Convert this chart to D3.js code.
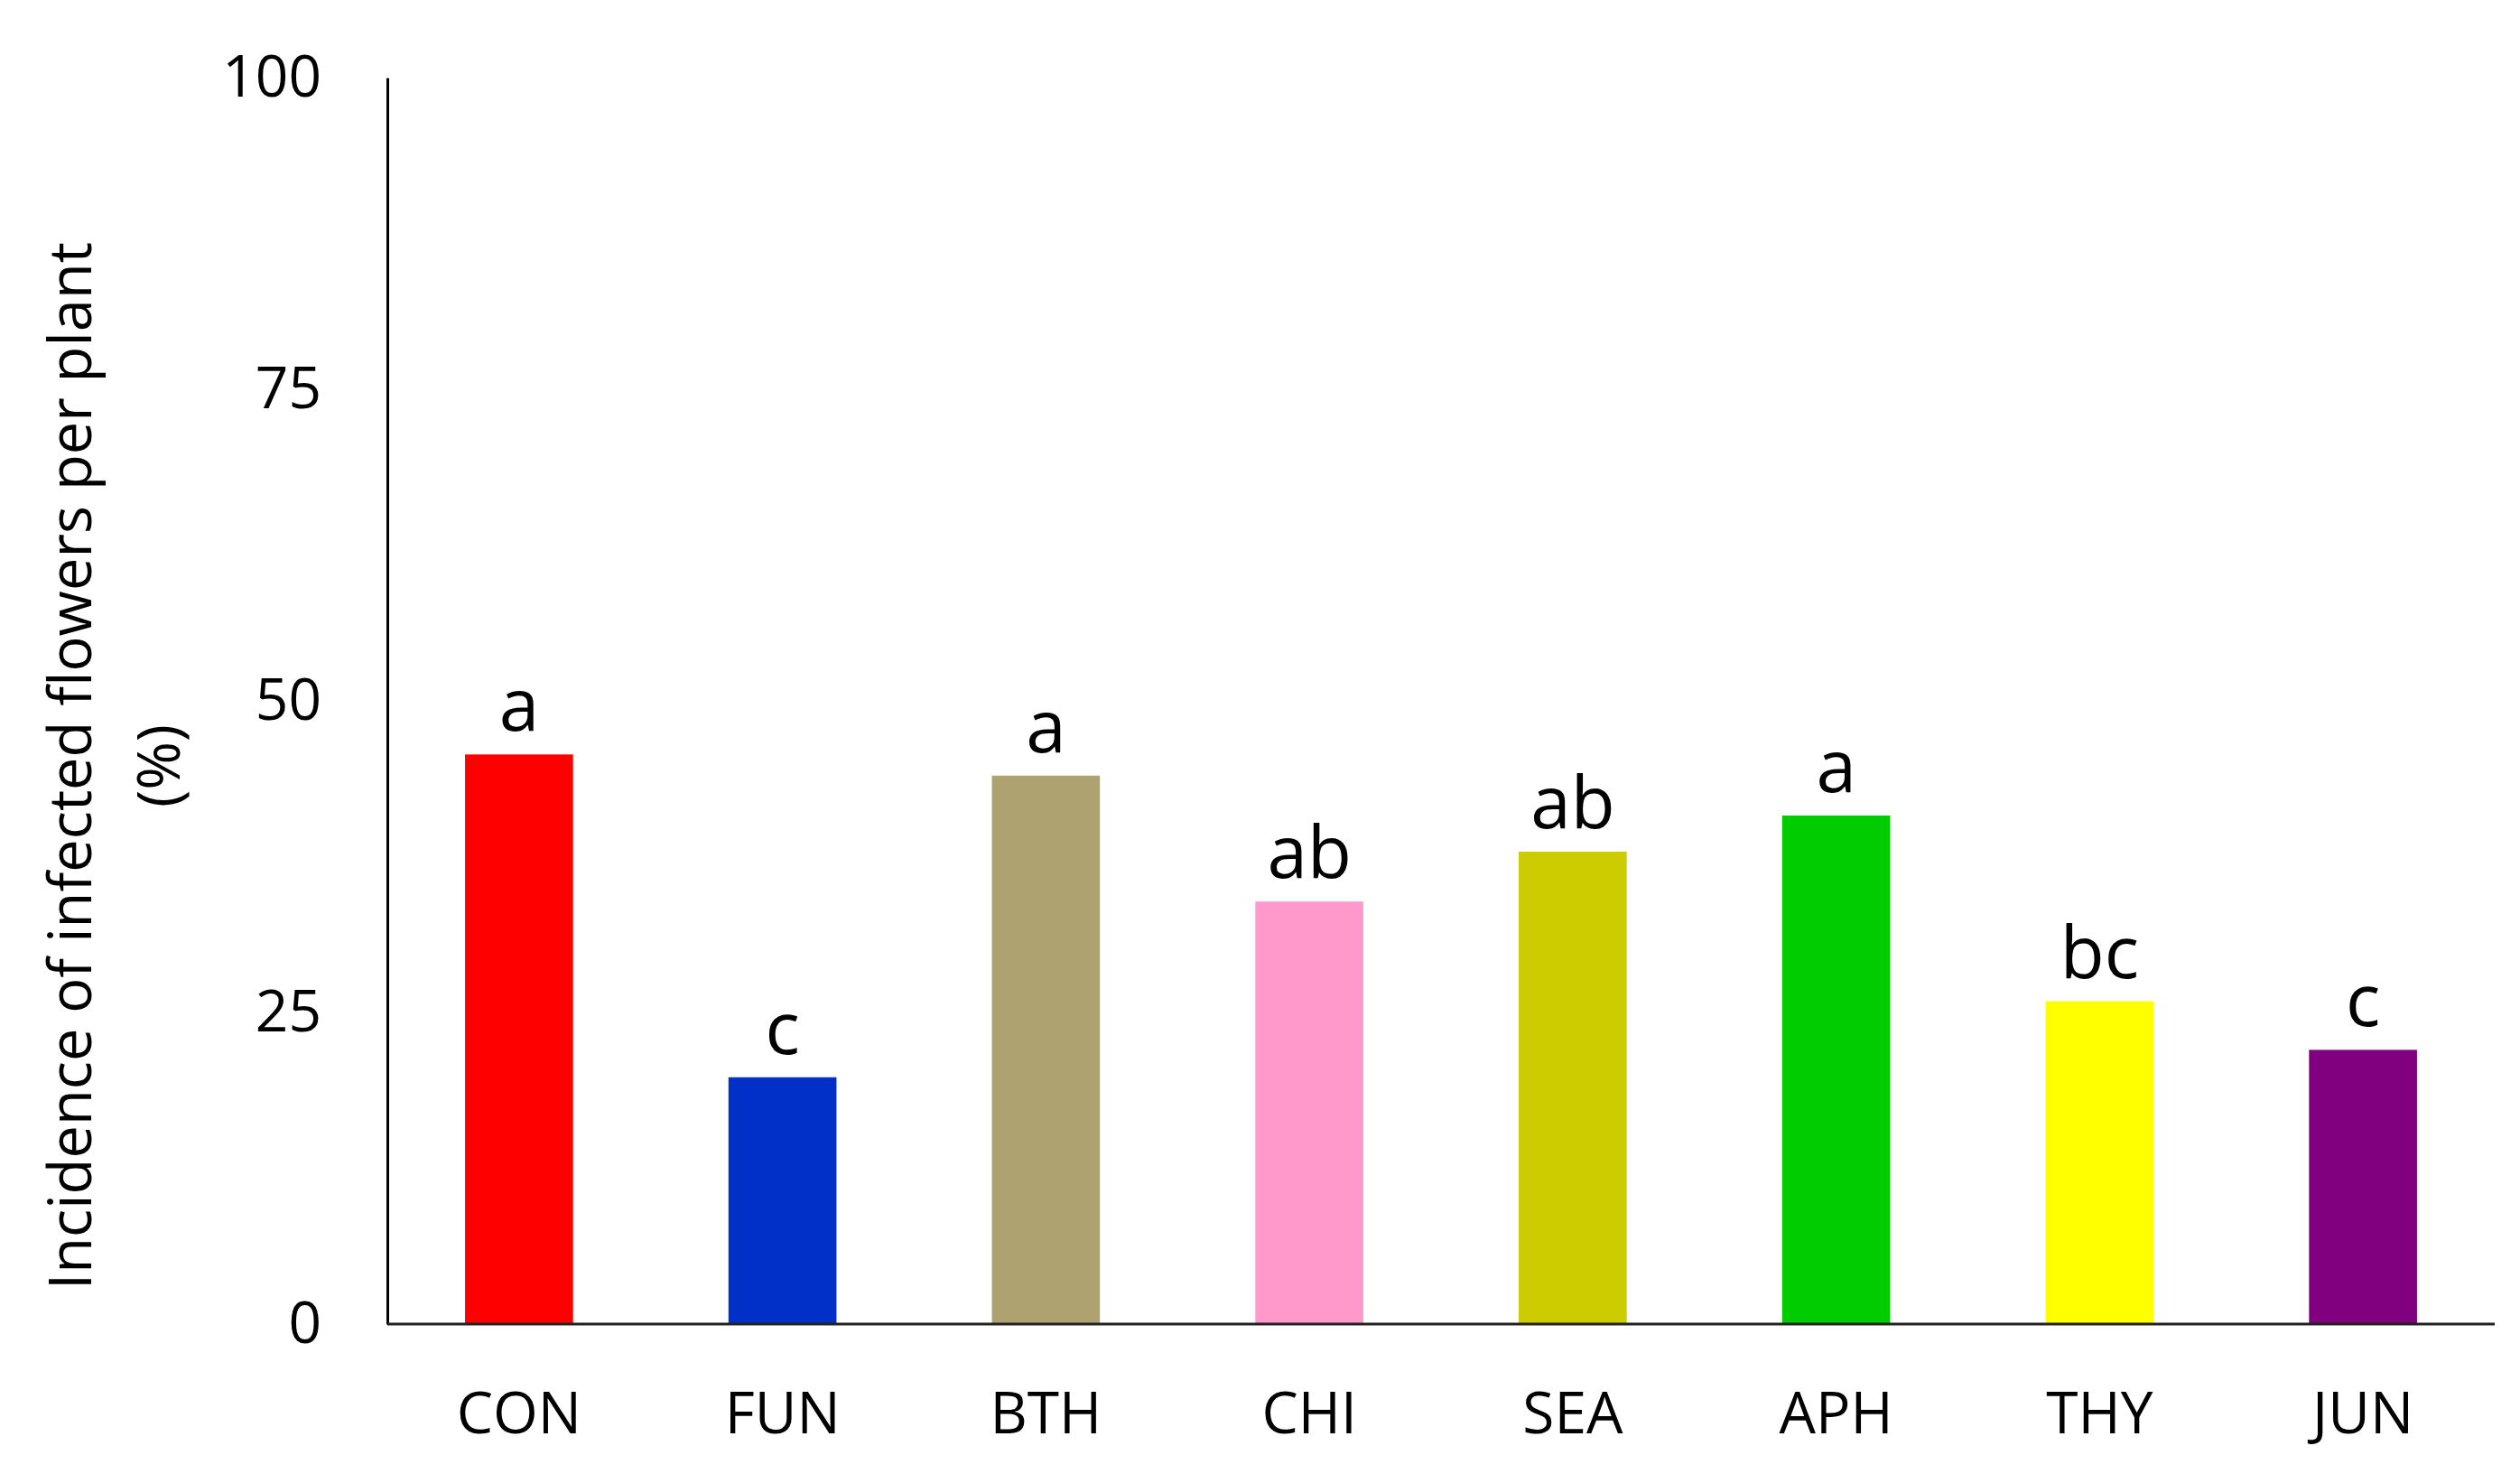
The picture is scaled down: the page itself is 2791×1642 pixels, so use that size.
<!DOCTYPE html>
<html>
<head>
<meta charset="utf-8">
<script src="https://cdn.jsdelivr.net/npm/d3@7"></script>
<style>
  html, body { margin: 0; padding: 0; background: #fff; }
  svg { display: block; }
  text { font-family: "Open Sans", "Noto Sans", sans-serif; fill: #000; }
</style>
</head>
<body>
<svg id="chart" width="2791" height="1642"></svg>
<script>
const categories = ["CON", "FUN", "BTH", "CHI", "SEA", "APH", "THY", "JUN"];
const values = [45.7, 19.8, 44.0, 33.9, 37.9, 40.8, 25.9, 22.0];
const letters = ["a", "c", "a", "ab", "ab", "a", "bc", "c"];
const colors = ["#FF0000", "#0030C8", "#AEA370", "#FF99CC", "#CCCC00", "#00CC00", "#FFFF00", "#800080"];
const yTicks = [0, 25, 50, 75, 100];
const yTitle = ["Incidence of infected flowers per plant", "(%)"];

const svg = d3.select("#chart");
const margin = { left: 429, right: 28, top: 86, bottom: 176 };
const W = 2791, H = 1642;

const x = d3.scaleBand()
  .domain(categories)
  .range([margin.left, W - margin.right])
  .paddingInner(0.59)
  .paddingOuter(0.295);

const y = d3.scaleLinear()
  .domain([0, 100])
  .range([H - margin.bottom, margin.top]);

// bars
svg.append("g").selectAll("rect")
  .data(categories)
  .join("rect")
  .attr("x", d => x(d))
  .attr("width", x.bandwidth())
  .attr("y", (d, i) => y(values[i]))
  .attr("height", (d, i) => y(0) - y(values[i]))
  .attr("fill", (d, i) => colors[i]);

// letters
svg.append("g").selectAll("text")
  .data(categories)
  .join("text")
  .attr("x", d => x(d) + x.bandwidth() / 2)
  .attr("y", (d, i) => y(values[i]) - 26)
  .attr("text-anchor", "middle")
  .attr("font-size", 80)
  .text((d, i) => letters[i]);

// y axis
const yAxis = svg.append("g")
  .attr("transform", `translate(${margin.left},0)`)
  .call(d3.axisLeft(y).tickValues(yTicks).tickSize(0).tickPadding(73).tickFormat(d3.format("d")));
yAxis.select(".domain").attr("stroke", "#000").attr("stroke-width", 3);
yAxis.selectAll(".tick text").attr("font-size", 64).attr("fill", "#000")
  .attr("font-family", "'Open Sans', sans-serif");

// x axis
const xAxis = svg.append("g")
  .attr("transform", `translate(0,${y(0)})`)
  .call(d3.axisBottom(x).tickSize(0).tickPadding(76));
xAxis.select(".domain").attr("stroke", "#222").attr("stroke-width", 3)
  .attr("d", `M${margin.left},0H${W - margin.right}`);
xAxis.selectAll(".tick text").attr("font-size", 64).attr("fill", "#000")
  .attr("font-family", "'Open Sans', sans-serif");

// y title
const cy = (y(0) + y(100)) / 2 + 72;
svg.append("text")
  .attr("transform", `translate(101,${cy}) rotate(-90)`)
  .attr("text-anchor", "middle")
  .attr("font-size", 65)
  .text(yTitle[0]);
svg.append("text")
  .attr("transform", `translate(199,${cy}) rotate(-90)`)
  .attr("text-anchor", "middle")
  .attr("font-size", 65)
  .text(yTitle[1]);
</script>
</body>
</html>
